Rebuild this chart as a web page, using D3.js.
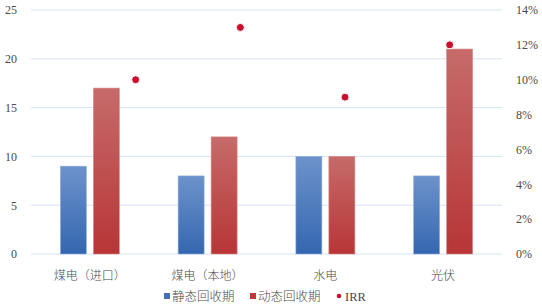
<!DOCTYPE html>
<html>
<head>
<meta charset="utf-8">
<script src="https://cdn.jsdelivr.net/npm/d3@7"></script>
<style>
  html, body { margin: 0; padding: 0; background: #fff; }
  svg { display: block; }
  text { font-family: "Liberation Serif", "Noto Sans CJK SC", serif; fill: #4a4a4a; }
  .cjk { font-weight: 300; }
</style>
</head>
<body>
<svg></svg>
<script>
// Dados do gráfico
const categories = ["煤电（进口）", "煤电（本地）", "水电", "光伏"];
const staticPayback = [9, 8, 10, 8];      // 静态回收期
const dynamicPayback = [17, 12, 10, 21];  // 动态回收期
const irr = [0.10, 0.13, 0.09, 0.12];     // IRR
const leftTicks = [0, 5, 10, 15, 20, 25];
const rightTicks = [0, 0.02, 0.04, 0.06, 0.08, 0.10, 0.12, 0.14];
const seriesNames = ["静态回收期", "动态回收期", "IRR"];

const width = 542, height = 307;
const margin = { top: 10, right: 40, bottom: 53, left: 31 };

const svg = d3.select("svg")
  .attr("width", width)
  .attr("height", height);

const defs = svg.append("defs");
function gradient(id, top, bottom) {
  const g = defs.append("linearGradient")
    .attr("id", id)
    .attr("x1", 0).attr("y1", 0).attr("x2", 0).attr("y2", 1);
  g.append("stop").attr("offset", "0%").attr("stop-color", top);
  g.append("stop").attr("offset", "100%").attr("stop-color", bottom);
}
gradient("gBlue", "#6d92cb", "#3467b0");
gradient("gRed", "#c66b6a", "#b83536");

// Escalas
const x = d3.scaleBand()
  .domain(categories)
  .range([margin.left, width - margin.right])
  .paddingInner(0).paddingOuter(0);

const x1 = d3.scaleBand()
  .domain([0, 1])
  .range([-29.5, 29.5])
  .paddingInner(0.212);

// eixo x secundário dos pontos (dispersão)
const xs = d3.scaleLinear()
  .domain([0, 4.5])
  .range([margin.left, width - margin.right]);

const y = d3.scaleLinear()
  .domain([0, 25])
  .range([height - margin.bottom, margin.top]);

const y2 = d3.scaleLinear()
  .domain([0, 0.14])
  .range([height - margin.bottom, margin.top]);

// Linhas de grade
svg.append("g")
  .selectAll("line")
  .data(leftTicks)
  .enter()
  .append("line")
  .attr("x1", margin.left)
  .attr("x2", width - margin.right)
  .attr("y1", d => y(d))
  .attr("y2", d => y(d))
  .attr("stroke", "#d7e3f4")
  .attr("stroke-width", 1);

// Eixo esquerdo
const yAxis = svg.append("g")
  .attr("transform", `translate(${margin.left},0)`)
  .call(d3.axisLeft(y).tickValues(leftTicks).tickSize(0).tickPadding(14));
yAxis.select(".domain").remove();
yAxis.selectAll("text")
  .style("font-size", "12px")
  .style("font-family", "Liberation Serif")
  .attr("fill", "#333");

// Eixo direito
const y2Axis = svg.append("g")
  .attr("transform", `translate(${width - margin.right},0)`)
  .call(d3.axisRight(y2).tickValues(rightTicks).tickSize(0).tickPadding(14)
    .tickFormat(d3.format(".0%")));
y2Axis.select(".domain").remove();
y2Axis.selectAll("text")
  .style("font-size", "12px")
  .style("font-family", "Liberation Serif")
  .attr("fill", "#333");

// Rótulos das categorias
svg.append("g")
  .selectAll("text")
  .data(categories)
  .enter()
  .append("text")
  .attr("class", "cjk")
  .attr("x", d => x(d) + x.bandwidth() / 2)
  .attr("y", 280)
  .attr("text-anchor", "middle")
  .style("font-size", "12px")
  .text(d => d);

// Barras
const bars = [
  { values: staticPayback, fill: "url(#gBlue)", stroke: "#8fb0dc" },
  { values: dynamicPayback, fill: "url(#gRed)", stroke: "#d98a8a" }
];
bars.forEach((s, i) => {
  svg.append("g")
    .selectAll("rect")
    .data(categories)
    .enter()
    .append("rect")
    .attr("x", d => x(d) + x.bandwidth() / 2 + x1(i))
    .attr("width", x1.bandwidth())
    .attr("y", (d, j) => y(s.values[j]))
    .attr("height", (d, j) => y(0) - y(s.values[j]))
    .attr("fill", s.fill)
    .attr("stroke", s.stroke)
    .attr("stroke-width", 0.6);
});

// Pontos IRR
svg.append("g")
  .selectAll("circle")
  .data(irr)
  .enter()
  .append("circle")
  .attr("cx", (d, i) => xs(i + 1))
  .attr("cy", d => y2(d))
  .attr("r", 4)
  .attr("fill", "#c8102e")
  .attr("stroke", "#fff")
  .attr("stroke-width", 1);

// Legenda
const legend = svg.append("g").attr("transform", "translate(0,296)");
const legendItems = [
  { name: seriesNames[0], x: 164, type: "rect", color: "#3f72b8" },
  { name: seriesNames[1], x: 250, type: "rect", color: "#c0393a" },
  { name: seriesNames[2], x: 337, type: "dot", color: "#c8102e" }
];
legendItems.forEach(it => {
  if (it.type === "rect") {
    legend.append("rect")
      .attr("x", it.x).attr("y", -3)
      .attr("width", 6).attr("height", 6)
      .attr("fill", it.color);
  } else {
    legend.append("circle")
      .attr("cx", it.x + 2).attr("cy", 0)
      .attr("r", 2.3)
      .attr("fill", it.color);
  }
  legend.append("text")
    .attr("class", it.type === "rect" ? "cjk" : null)
    .attr("x", it.x + 8)
    .attr("y", 4.5)
    .style("font-size", "12.5px")
    .text(it.name);
});
</script>
</body>
</html>
